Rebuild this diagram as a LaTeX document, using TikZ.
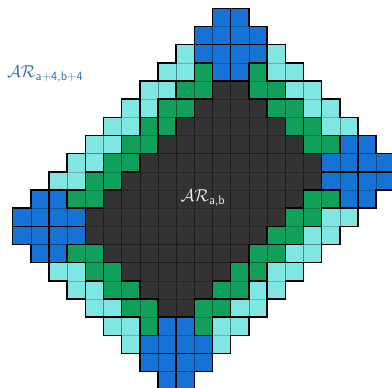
\documentclass[tikz,border=0pt]{standalone}
\usepackage{amsmath}
\definecolor{cblue}{RGB}{22,114,212}
\definecolor{ccyan}{RGB}{127,230,225}
\definecolor{cgreen}{RGB}{16,160,92}
\definecolor{cdark}{RGB}{51,51,51}
\definecolor{lblblue}{RGB}{42,110,181}
\tikzset{
  gridline/.style={line width=0.5pt, black, opacity=0.22},
  piece/.style={line width=1.5pt, black, line join=miter},
}
\begin{document}
\begin{tikzpicture}[x=1pt,y=1pt]
\useasboundingbox (0,0) rectangle (392,-388);
\begin{scope}[shift={(12.7,-8.3)}, x=18.17pt, y=-18.17pt]
% cell fills and thin grid lines
\foreach \r/\a/\b/\col in {
  4/11/12/cdark,5/10/13/cdark,6/9/14/cdark,7/8/15/cdark,8/7/16/cdark,9/6/16/cdark,10/5/15/cdark,11/4/14/cdark,12/4/13/cdark,13/5/12/cdark,14/6/11/cdark,15/7/10/cdark,16/8/9/cdark,
  0/11/12/cblue,1/10/13/cblue,2/10/13/cblue,3/11/12/cblue,7/18/19/cblue,8/17/20/cblue,9/17/20/cblue,10/18/19/cblue,17/8/9/cblue,18/7/10/cblue,19/7/10/cblue,20/8/9/cblue,10/1/2/cblue,11/0/3/cblue,12/0/3/cblue,13/1/2/cblue,
  2/9/9/ccyan,2/14/14/ccyan,3/8/9/ccyan,3/14/15/ccyan,4/7/8/ccyan,4/15/16/ccyan,5/6/7/ccyan,5/16/17/ccyan,6/5/6/ccyan,6/17/18/ccyan,7/4/5/ccyan,8/3/4/ccyan,9/2/3/ccyan,11/17/18/ccyan,12/16/17/ccyan,13/15/16/ccyan,14/2/3/ccyan,14/14/15/ccyan,15/3/4/ccyan,15/13/14/ccyan,16/4/5/ccyan,16/12/13/ccyan,17/5/6/ccyan,17/11/12/ccyan,18/6/6/ccyan,18/11/11/ccyan,
  3/10/10/cgreen,3/13/13/cgreen,4/9/10/cgreen,4/13/14/cgreen,5/8/9/cgreen,5/14/15/cgreen,6/7/8/cgreen,6/15/16/cgreen,7/6/7/cgreen,7/16/17/cgreen,8/5/6/cgreen,9/4/5/cgreen,10/3/4/cgreen,10/16/17/cgreen,11/15/16/cgreen,12/14/15/cgreen,13/3/4/cgreen,13/13/14/cgreen,14/4/5/cgreen,14/12/13/cgreen,15/5/6/cgreen,15/11/12/cgreen,16/6/7/cgreen,16/10/11/cgreen,17/7/7/cgreen,17/10/10/cgreen}
  {\fill[\col] (\a,\r) rectangle (\b+1,\r+1);
   \foreach \c in {\a,...,\b} \draw[gridline] (\c,\r) rectangle (\c+1,\r+1);}
% L-tromino outlines: square top-left x/y and missing corner
\foreach \x/\y/\m in {
  13/3/TR,14/5/BL,16/6/TR, 9/3/TL,8/5/BR,6/6/TL,5/8/BR,3/9/TL,
  6/16/BL,5/14/TR,3/13/BL, 10/16/BR,11/14/TL,13/13/BR,14/11/TL,16/10/BR,
  14/2/TR,15/4/BL,17/5/TR, 8/2/TL,7/4/BR,5/5/TL,4/7/BR,2/8/TL,
  5/17/BL,4/15/TR,2/14/BL, 11/17/BR,12/15/TL,14/14/BR,15/12/TL,17/11/BR}
  {\ifx\m\TRstr\fi
   \def\tmp{TR}\ifx\m\tmp \draw[piece] (\x,\y) -- (\x+1,\y) -- (\x+1,\y+1) -- (\x+2,\y+1) -- (\x+2,\y+2) -- (\x,\y+2) -- cycle;\fi
   \def\tmp{BL}\ifx\m\tmp \draw[piece] (\x,\y) -- (\x+2,\y) -- (\x+2,\y+2) -- (\x+1,\y+2) -- (\x+1,\y+1) -- (\x,\y+1) -- cycle;\fi
   \def\tmp{TL}\ifx\m\tmp \draw[piece] (\x+1,\y) -- (\x+2,\y) -- (\x+2,\y+2) -- (\x,\y+2) -- (\x,\y+1) -- (\x+1,\y+1) -- cycle;\fi
   \def\tmp{BR}\ifx\m\tmp \draw[piece] (\x,\y) -- (\x+2,\y) -- (\x+2,\y+1) -- (\x+1,\y+1) -- (\x+1,\y+2) -- (\x,\y+2) -- cycle;\fi}
% blue crosses split into four pieces
\foreach \x/\y in {12/2,19/9,9/19,2/12}
  {\draw[piece] (\x-1,\y-2) -- (\x+1,\y-2) -- (\x+1,\y-1) -- (\x+2,\y-1) -- (\x+2,\y+1) -- (\x+1,\y+1) -- (\x+1,\y+2) -- (\x-1,\y+2) -- (\x-1,\y+1) -- (\x-2,\y+1) -- (\x-2,\y-1) -- (\x-1,\y-1) -- cycle;
   \draw[piece] (\x,\y-2) -- (\x,\y+2);
   \draw[piece] (\x-2,\y) -- (\x+2,\y);}
\end{scope}
\node[text=lblblue, font=\fontsize{18}{21}\selectfont, inner sep=0pt, anchor=west] (lblouter) at (7,-74) {$\mathcal{AR}_{\textsf{a+4,b+4}}$};
\node[text=white!92!black, font=\fontsize{18}{21}\selectfont, inner sep=0pt] (lblinner) at (203,-198) {$\mathcal{AR}_{\textsf{a,b}}$};
\end{tikzpicture}
\end{document}
